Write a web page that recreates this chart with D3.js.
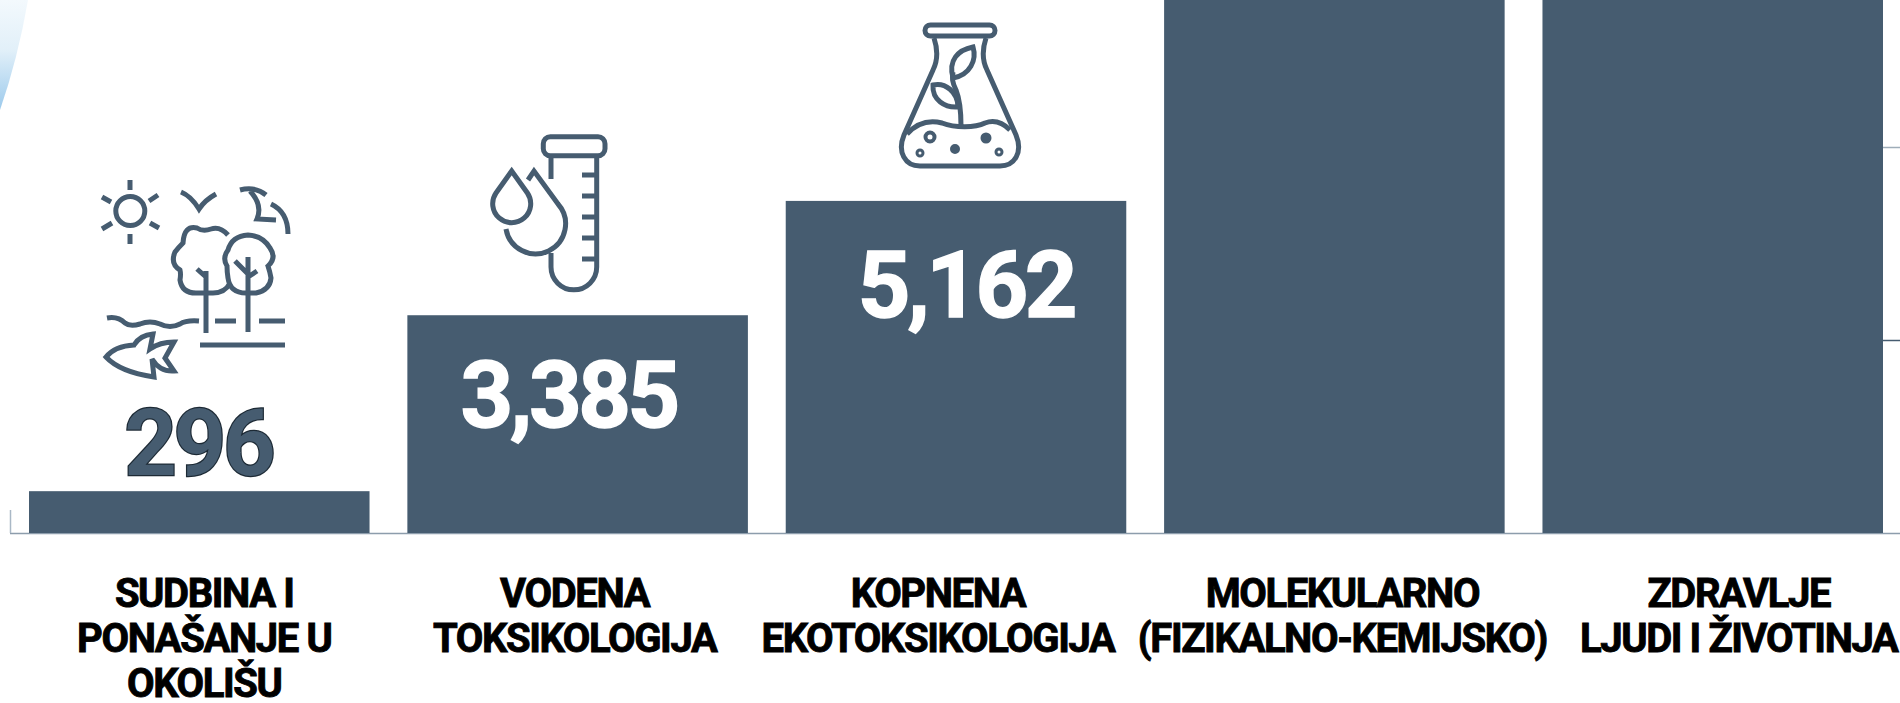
<!DOCTYPE html>
<html>
<head>
<meta charset="utf-8">
<script src="https://cdn.jsdelivr.net/npm/d3@7"></script>
<style>
  html, body { margin: 0; padding: 0; background: #fff; overflow: hidden; }
  svg { display: block; }
  text { font-family: Roboto, sans-serif; paint-order: stroke; }
</style>
</head>
<body>
<div id="chart"></div>
<script>
// Values
const categories = ["Sudbina", "Vodena", "Kopnena", "Molekularno", "Zdravlje"];
const categoryLines = [
    ["SUDBINA I", "PONAŠANJE U", "OKOLIŠU"],
    ["VODENA", "TOKSIKOLOGIJA"],
    ["KOPNENA", "EKOTOKSIKOLOGIJA"],
    ["MOLEKULARNO", "(FIZIKALNO-KEMIJSKO)"],
    ["ZDRAVLJE", "LJUDI I ŽIVOTINJA"]
];
// bar heights in axis units; the last two run off the top of the picture
const barValues = [650, 3385, 5162, 9000, 9000];
const valueLabels = ["296", "3,385", "5,162", "", ""];
const gridTicks = [3000, 6000];

// Label offsets from the bar centre, the original labels are not centred
const valueDx = [-1, -9, 10];
const labelDx = [5, -3, -18, 8, 26];

const width = 1900;
const height = 703;
const barColor = "#465c70";

const svg = d3.select("#chart")
    .append("svg")
    .attr("width", width)
    .attr("height", height);

// Pale blue sweep in the top left corner
const defs = svg.append("defs");
const grad = defs.append("linearGradient")
    .attr("id", "sweep")
    .attr("x1", 0).attr("y1", 0)
    .attr("x2", 0).attr("y2", 1);
grad.append("stop").attr("offset", "0%").attr("stop-color", "#f3f9fd");
grad.append("stop").attr("offset", "45%").attr("stop-color", "#e2f0f9");
grad.append("stop").attr("offset", "100%").attr("stop-color", "#9ccaec");

svg.append("path")
    .attr("d", "M0,0 L28,0 Q18,58 0,110 Z")
    .attr("fill", "url(#sweep)");

// Scales
const x = d3.scaleBand()
    .domain(categories)
    .range([29, 1883])
    .paddingInner(0.1)
    .paddingOuter(0);

const y = d3.scaleLinear()
    .domain([0, 3000])
    .range([533, 340]);

// Axis base line and the short left stub
const xAxis = d3.axisBottom(x).tickSize(0).tickFormat("");
const xAxisG = svg.append("g")
    .attr("transform", `translate(0,${y(0)})`)
    .call(xAxis);
xAxisG.select(".domain")
    .attr("d", `M10,0.5H${width}`)
    .attr("stroke", "#8d9dac")
    .attr("stroke-width", 1.5);

svg.append("line")
    .attr("x1", 10.5).attr("x2", 10.5)
    .attr("y1", 510).attr("y2", y(0))
    .attr("stroke", "#a9b8c6")
    .attr("stroke-width", 1.5);

// Grid stubs right of the last bar
const yAxis = d3.axisRight(y).tickValues(gridTicks).tickSize(width - 1883).tickFormat("");
const yAxisG = svg.append("g")
    .attr("transform", "translate(1883,0)")
    .call(yAxis);
yAxisG.select(".domain").remove();
yAxisG.selectAll("line")
    .attr("stroke", d => d === 6000 ? "#9fadb9" : barColor)
    .attr("stroke-width", 1.5);

// Bars
svg.selectAll(".bar")
    .data(categories)
    .enter()
    .append("rect")
    .attr("class", "bar")
    .attr("x", d => x(d))
    .attr("width", x.bandwidth())
    .attr("y", (d, i) => y(barValues[i]))
    .attr("height", (d, i) => y(0) - y(barValues[i]))
    .attr("fill", barColor);

// Value labels, only the first sits outside its bar
const valueBaseline = [475, 427, 317];
svg.selectAll(".value")
    .data(valueLabels.filter(d => d))
    .enter()
    .append("text")
    .attr("class", "value")
    .attr("x", (d, i) => x(categories[i]) + x.bandwidth() / 2 + valueDx[i])
    .attr("y", (d, i) => valueBaseline[i])
    .attr("text-anchor", "middle")
    .attr("font-size", 92)
    .attr("font-weight", 700)
    .attr("letter-spacing", "-3.5px")
    .attr("fill", (d, i) => i === 0 ? barColor : "#fff")
    .attr("stroke", (d, i) => i === 0 ? "#1d2a35" : "#fff")
    .attr("stroke-width", (d, i) => i === 0 ? 2.4 : 1.4)
    .text(d => d);

// Category labels
const labels = svg.selectAll(".cat")
    .data(categoryLines)
    .enter()
    .append("text")
    .attr("class", "cat")
    .attr("text-anchor", "middle")
    .attr("font-size", 40)
    .attr("font-weight", 700)
    .attr("letter-spacing", "-1.4px")
    .attr("fill", "#000")
    .attr("stroke", "#000")
    .attr("stroke-width", 0.9);

labels.selectAll("tspan")
    .data((d, i) => d.map(t => ({ t, i })))
    .enter()
    .append("tspan")
    .attr("x", d => x(categories[d.i]) + x.bandwidth() / 2 + labelDx[d.i])
    .attr("y", (d, j) => 607 + j * 45)
    .text(d => d.t);

// Icons above the first three bars
const icons = svg.append("g")
    .attr("fill", "none")
    .attr("stroke", barColor)
    .attr("stroke-width", 5);

function iconPath(d, extra) {
    const p = icons.append("path").attr("d", d);
    if (extra) p.attr("stroke-width", extra);
    return p;
}

// Landscape: sun
icons.append("circle").attr("cx", 130.3).attr("cy", 211).attr("r", 14.5);
iconPath("M130,180V190 M130,234V244 M102,197L111,202 M149,201L158,195 M102,229L112,223 M150,223L159,228");
// birds
iconPath("M181,192 Q191,196 199,209 Q205,200 216,194");
iconPath("M240,190 Q255,186 266,195 M250,191 Q263,205 257,219 L276,220 M271,204 Q288,212 288,234");
// trees
iconPath("M228,235 Q220,226 211,229 Q203,232 197,228 Q184,225 183,243 Q178,248 175,252 Q170,264 180,270 Q181,274 180,280 Q182,293 196,293 H213 Q225,293 230,283");
iconPath("M248,235 Q232,236 228,250 Q222,258 227,266 Q227,272 228,278 Q230,293 246,293 H256 Q270,290 271,278 Q270,272 268,266 Q277,258 270,248 Q263,236 248,235 Z");
iconPath("M206,271V333 M197,269L206,277 M248,257V332 M235,261L248,274 M257,271L248,277");
// water and ground
iconPath("M107,318 Q118,316 125,323 Q130,327 140,324 Q150,320 160,324 Q170,329 180,324 Q186,320 199,321");
iconPath("M215,321H236 M259,321H285 M200,345H285");
// fish
iconPath("M106,357 Q115,346 134,345 Q140,335 153,334 L150,349 Q160,342 174,342 L165,358 L174,371 Q160,372 152,359 L154,377 Q120,372 106,357 Z");

// Test tube and drops
icons.append("rect")
    .attr("x", 543.3).attr("y", 136.7)
    .attr("width", 61.7).attr("height", 19)
    .attr("rx", 7);
iconPath("M551,158V179 M551,253V267 A22.85,22.85 0 0 0 596.7,267 V156");
iconPath("M582,175H597 M582,196H597 M582,217H597 M582,238H597 M582,259H597");
iconPath("M511.7,171 L496,193 A19,19 0 1 0 527.4,193 Z");
iconPath("M528,180 L534,171 L558,204 A30,30 0 1 1 506,229");

// Flask with seedling
icons.append("rect")
    .attr("x", 925).attr("y", 25)
    .attr("width", 70).attr("height", 11)
    .attr("rx", 5.5);
iconPath("M934,38 C938,50 938,60 933,70 L904,135 C897,152 905,166 920,166 H1000 C1015,166 1023,152 1016,135 L987,70 C982,60 982,50 986,38");
iconPath("M907,134 C918,122 930,120 942,123 C955,128 975,128 985,123 C993,120 1002,122 1010,130");
iconPath("M961,126 C961,110 960,100 956,90 C952,82 952,78 953,72");
iconPath("M953,78 C948,60 958,50 973,47 C977,60 970,75 953,78 Z");
iconPath("M933,85 C945,82 958,92 958,107 C945,108 932,100 933,85 Z");
icons.append("circle").attr("cx", 930).attr("cy", 137).attr("r", 4.5).attr("stroke-width", 4);
icons.append("circle").attr("cx", 920).attr("cy", 153).attr("r", 3).attr("stroke-width", 3);
icons.append("circle").attr("cx", 955).attr("cy", 149).attr("r", 3.5).attr("fill", barColor).attr("stroke-width", 3);
icons.append("circle").attr("cx", 986).attr("cy", 138).attr("r", 4).attr("fill", barColor).attr("stroke-width", 3);
icons.append("circle").attr("cx", 999).attr("cy", 152).attr("r", 3).attr("stroke-width", 3);
</script>
</body>
</html>
